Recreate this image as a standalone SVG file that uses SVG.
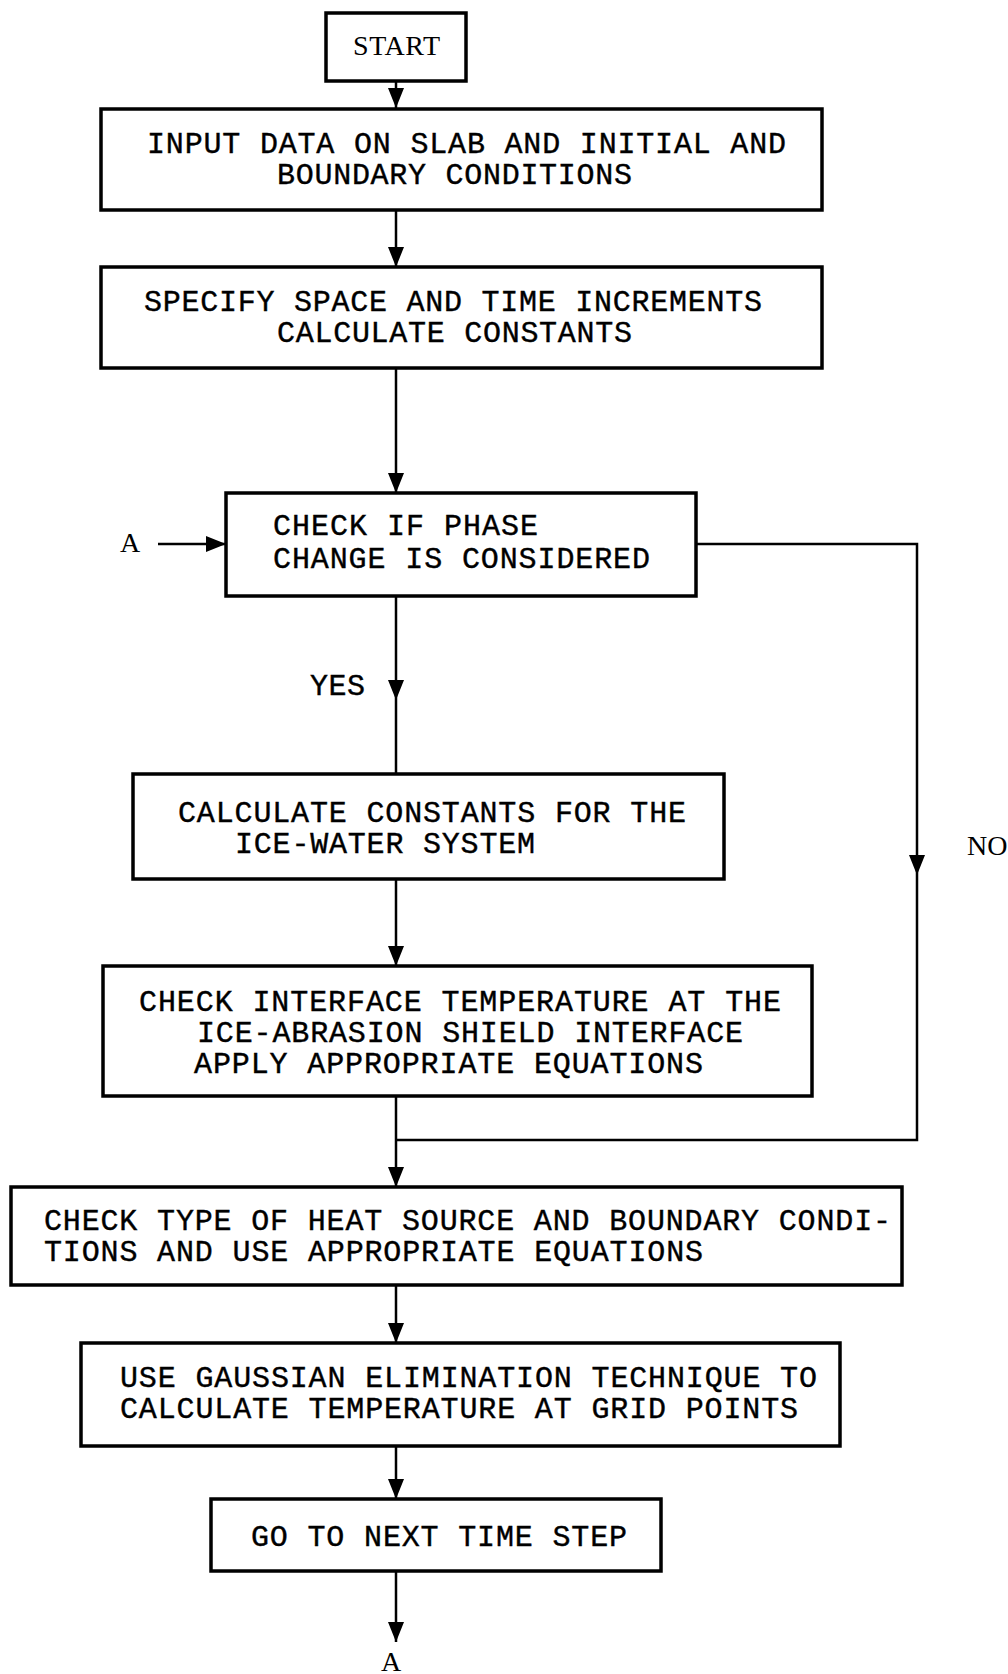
<svg xmlns="http://www.w3.org/2000/svg" width="1008" height="1674" viewBox="0 0 1008 1674">
<style>
.box{fill:#fff;stroke:#000;stroke-width:3.5}
.t{font-family:"Liberation Mono","Courier New",monospace;font-size:30px;fill:#000;stroke:#000;stroke-width:0.4}
.s{font-family:"Liberation Serif","Times New Roman",serif;font-size:28px;fill:#000}
.c{fill:none;stroke:#000;stroke-width:2.5}
</style>
<defs>
<marker id="ah" markerUnits="userSpaceOnUse" markerWidth="20" markerHeight="16" refX="20" refY="8" orient="auto" viewBox="0 0 20 16">
<polygon points="0,0 20,8 0,16" fill="#000"/>
</marker>
</defs>
<rect width="1008" height="1674" fill="#fff"/>
<g id="connectors">
<path class="c" d="M396,81 V108" marker-end="url(#ah)"/>
<path class="c" d="M396,210 V267" marker-end="url(#ah)"/>
<path class="c" d="M396,368 V493" marker-end="url(#ah)"/>
<path class="c" d="M158,544 H226" marker-end="url(#ah)"/>
<path class="c" d="M396,596 V700" marker-end="url(#ah)"/>
<path class="c" d="M396,700 V774"/>
<path class="c" d="M696,544 H917 V875" marker-end="url(#ah)"/>
<path class="c" d="M917,875 V1140 H396"/>
<path class="c" d="M396,879 V966" marker-end="url(#ah)"/>
<path class="c" d="M396,1096 V1187" marker-end="url(#ah)"/>
<path class="c" d="M396,1285 V1343" marker-end="url(#ah)"/>
<path class="c" d="M396,1446 V1499" marker-end="url(#ah)"/>
<path class="c" d="M396,1571 V1642" marker-end="url(#ah)"/>
</g>
<g id="labels">
<text class="s" x="120" y="552">A</text>
<text class="t" x="310" y="695" textLength="55">YES</text>
<text class="s" x="967" y="855">NO</text>
<text class="s" x="381" y="1671">A</text>
</g>
<g id="start">
<rect class="box" x="326" y="13" width="140" height="68"/>
<text class="s" x="353" y="55" textLength="87">START</text>
</g>
<g id="input">
<rect class="box" x="101" y="109" width="721" height="101"/>
<text class="t" x="147" y="153" textLength="639">INPUT DATA ON SLAB AND INITIAL AND</text>
<text class="t" x="277" y="184" textLength="355">BOUNDARY CONDITIONS</text>
</g>
<g id="specify">
<rect class="box" x="101" y="267" width="721" height="101"/>
<text class="t" x="144" y="311" textLength="618">SPECIFY SPACE AND TIME INCREMENTS</text>
<text class="t" x="277" y="342" textLength="355">CALCULATE CONSTANTS</text>
</g>
<g id="phase">
<rect class="box" x="226" y="493" width="470" height="103"/>
<text class="t" x="273" y="535" textLength="265">CHECK IF PHASE</text>
<text class="t" x="273" y="568" textLength="377">CHANGE IS CONSIDERED</text>
</g>
<g id="icewater">
<rect class="box" x="133" y="774" width="591" height="105"/>
<text class="t" x="178" y="822" textLength="508">CALCULATE CONSTANTS FOR THE</text>
<text class="t" x="235" y="853" textLength="300">ICE-WATER SYSTEM</text>
</g>
<g id="interface">
<rect class="box" x="103" y="966" width="709" height="130"/>
<text class="t" x="139" y="1011" textLength="642">CHECK INTERFACE TEMPERATURE AT THE</text>
<text class="t" x="197" y="1042" textLength="546">ICE-ABRASION SHIELD INTERFACE</text>
<text class="t" x="194" y="1073" textLength="509">APPLY APPROPRIATE EQUATIONS</text>
</g>
<g id="heatsource">
<rect class="box" x="11" y="1187" width="891" height="98"/>
<text class="t" x="44" y="1230" textLength="847">CHECK TYPE OF HEAT SOURCE AND BOUNDARY CONDI-</text>
<text class="t" x="44" y="1261" textLength="659">TIONS AND USE APPROPRIATE EQUATIONS</text>
</g>
<g id="gaussian">
<rect class="box" x="81" y="1343" width="759" height="103"/>
<text class="t" x="120" y="1387" textLength="697">USE GAUSSIAN ELIMINATION TECHNIQUE TO</text>
<text class="t" x="120" y="1418" textLength="678">CALCULATE TEMPERATURE AT GRID POINTS</text>
</g>
<g id="nextstep">
<rect class="box" x="211" y="1499" width="450" height="72"/>
<text class="t" x="251" y="1546" textLength="376">GO TO NEXT TIME STEP</text>
</g>
</svg>
